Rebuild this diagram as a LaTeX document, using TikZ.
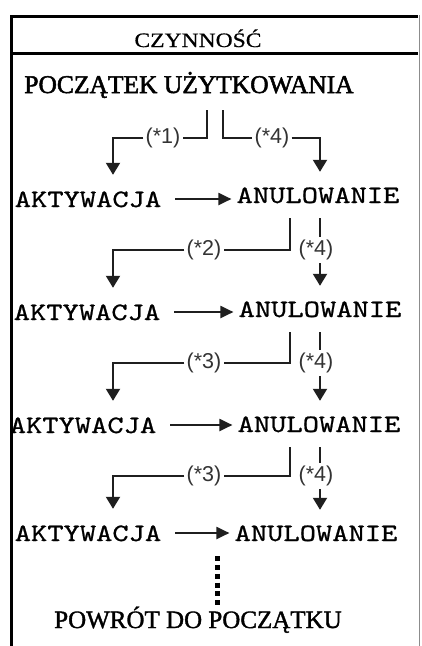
\documentclass[tikz,border=0pt]{standalone}
\usepackage{fontspec}
\setmainfont{Liberation Serif}
\newfontfamily\hdrfont{Liberation Serif}[FakeStretch=1.15,FakeBold=0.6]
\newfontfamily\titfont{Liberation Serif}[FakeBold=2]
\newfontfamily\powfont{Liberation Serif}[FakeBold=1.4]
\newfontfamily\monofont{lmmono10-regular}[Extension=.otf,FakeStretch=1.24,FakeBold=0.9]
\newfontfamily\lblfont{Liberation Sans}
\usetikzlibrary{arrows.meta,calc}
\begin{document}
\begin{tikzpicture}[x=1pt,y=-1pt,
  ln/.style={draw=black!88, line width=2pt},
  arr/.style={ln, -{Triangle[width=14pt,length=12pt]}},
  harr/.style={ln, -{Triangle[width=12pt,length=13pt]}},
  dots/.style={draw=black, line width=5pt, dash pattern=on 5pt off 3.8pt},
  akt/.style={font=\monofont\fontsize{25}{25}\selectfont, text height=16pt, text depth=0pt, inner xsep=14pt, inner ysep=16pt, anchor=base},
  anu/.style={font=\monofont\fontsize{25}{25}\selectfont, text height=16pt, text depth=0pt, inner xsep=5pt, inner ysep=15pt, anchor=base},
  lbl/.style={font=\lblfont\fontsize{21.5}{21.5}\selectfont, text=black!80, text height=15pt, text depth=5pt, inner xsep=2pt, inner ysep=3pt},
  tit/.style={font=\titfont\fontsize{25.5}{25.5}\selectfont, text height=17pt, text depth=0pt, inner ysep=17pt, anchor=base},
  powst/.style={font=\powfont\fontsize{25}{25}\selectfont, text height=17pt, text depth=0pt, inner ysep=6pt, anchor=base},
  hdr/.style={font=\hdrfont\fontsize{20.5}{20.5}\selectfont, anchor=base}
]
\useasboundingbox (0,0) rectangle (422,646);
% frame
\draw[line width=3pt] (11,646) -- (11,16.5) -- (418,16.5);
\draw[line width=3pt] (11,53.5) -- (418,53.5);
\draw[black!45, line width=1.5pt] (419.5,15) -- (419.5,646);
% texts
\node[hdr] (hd) at (198,47) {CZYNNOŚĆ};
\node[tit] (pocz) at (189,93) {POCZĄTEK UŻYTKOWANIA};
\node[akt] (ak1) at (88,207) {AKTYWACJA};
\node[anu] (an1) at (318,203) {ANULOWANIE};
\node[akt] (ak2) at (87,320) {AKTYWACJA};
\node[anu] (an2) at (320,317) {ANULOWANIE};
\node[akt] (ak3) at (83,433) {AKTYWACJA};
\node[anu] (an3) at (319,432) {ANULOWANIE};
\node[akt] (ak4) at (88,541) {AKTYWACJA};
\node[anu] (an4) at (316,541) {ANULOWANIE};
\node[powst] (pow) at (198,628) {POWRÓT DO POCZĄTKU};
% x positions
\coordinate (s1) at (207,0);
\coordinate (s2) at (223,0);
\coordinate (xa) at (290,0);
\coordinate (xr) at (320,0);
\coordinate (xl) at (113,0);
\coordinate (xd) at (217,0);
% horizontal arrows
\draw[harr] (ak1.east) -- (ak1.east -| an1.west);
\draw[harr] (ak2.east) -- (ak2.east -| an2.west);
\draw[harr] (ak3.east) -- (ak3.east -| an3.west);
\draw[harr] (ak4.east) -- (ak4.east -| an4.west);
% section 1
\node[lbl] (l1) at (163,138) {(*1)};
\node[lbl] (l1b) at (272,138) {(*4)};
\draw[ln] (s1 |- pocz.south) |- (l1.east);
\draw[arr] (l1.west) -| (xl |- ak1.north);
\draw[ln] (s2 |- pocz.south) |- (l1b.west);
\draw[arr] (l1b.east) -| (xr |- an1.north);
% section 2
\node[lbl] (l2) at (204,250) {(*2)};
\node[lbl] (r2) at (316,250) {(*4)};
\draw[ln] (xa |- an1.south) |- (l2.east);
\draw[arr] (l2.west) -| (xl |- ak2.north);
\draw[ln] (xr |- an1.south) -- (xr |- r2.north);
\draw[arr] (xr |- r2.south) -- (xr |- an2.north);
% section 3
\node[lbl] (l3) at (204,363) {(*3)};
\node[lbl] (r3) at (316,363) {(*4)};
\draw[ln] (xa |- an2.south) |- (l3.east);
\draw[arr] (l3.west) -| (xl |- ak3.north);
\draw[ln] (xr |- an2.south) -- (xr |- r3.north);
\draw[arr] (xr |- r3.south) -- (xr |- an3.north);
% section 4
\node[lbl] (l4) at (204,476) {(*3)};
\node[lbl] (r4) at (316,476) {(*4)};
\draw[ln] (xa |- an3.south) |- (l4.east);
\draw[arr] (l4.west) -| (xl |- ak4.north);
\draw[ln] (xr |- an3.south) -- (xr |- r4.north);
\draw[arr] (xr |- r4.south) -- (xr |- an4.north);
% dots
\draw[dots] (xd |- an4.south) -- (xd |- pow.north);
\end{tikzpicture}
\end{document}
